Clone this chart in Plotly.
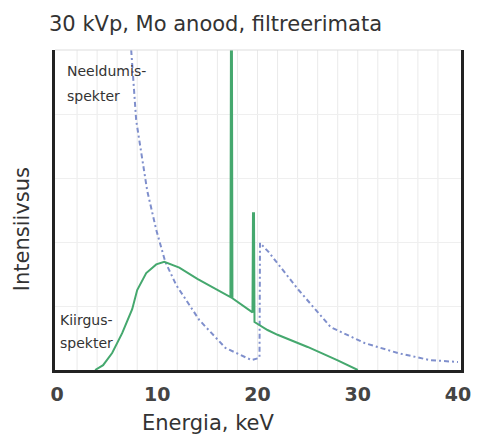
import plotly.graph_objects as go

# Emission (Kiirgus) spectrum, keV vs relative intensity
emis_x = [3.8, 4.6, 5.5, 6.5, 7.5, 8.0, 8.9, 9.9, 10.7, 12.2, 14.0, 16.0, 17.3, 17.35, 17.45, 17.5, 19.5, 19.55, 19.65, 19.7, 21.0, 22.0, 25.0, 28.0, 30.0]
emis_y = [0.0, 1.5, 5.3, 11.5, 19.0, 25.0, 30.3, 33.0, 33.8, 32.0, 28.5, 25.0, 22.8, 100.0, 100.0, 22.4, 18.0, 49.0, 49.0, 15.0, 12.5, 11.0, 7.2, 3.0, 0.0]

# Absorption (Neeldumis) spectrum
abs_x = [7.4, 7.9, 8.4, 9.0, 9.9, 10.8, 11.9, 12.7, 14.2, 16.8, 19.4, 20.2, 20.25, 21.1, 24.1, 27.3, 30.7, 34.0, 37.2, 40.0]
abs_y = [100.0, 78.0, 68.0, 56.0, 43.8, 33.8, 26.5, 22.8, 15.6, 6.9, 3.1, 3.8, 39.7, 36.9, 25.0, 13.4, 8.4, 5.3, 3.1, 2.5]

x_ticks = [0, 10, 20, 30, 40]
title_text = "30 kVp, Mo anood, filtreerimata"
xlabel = "Energia, keV"
ylabel = "Intensiivsus"

fig = go.Figure()
fig.add_trace(go.Scatter(x=abs_x, y=abs_y, mode="lines",
                         line=dict(color="#7f8fcc", width=2, dash="5px,3px,2px,3px"),
                         hoverinfo="skip", showlegend=False))
fig.add_trace(go.Scatter(x=emis_x, y=emis_y, mode="lines",
                         line=dict(color="#45a86e", width=2),
                         hoverinfo="skip", showlegend=False))

font = "DejaVu Sans, sans-serif"
fig.update_layout(
    width=483, height=436,
    margin=dict(l=55, r=19, t=50, b=66),
    paper_bgcolor="white", plot_bgcolor="white",
    font=dict(family=font, color="#333"),
    xaxis=dict(range=[-0.2, 40.3], tickvals=x_ticks, ticktext=[str(v) for v in x_ticks],
               tickfont=dict(size=19, color="#444", weight="bold"),
               showgrid=False, zeroline=False,
               showline=True, linewidth=3, linecolor="#222",
               ticks="", ticklabelstandoff=5),
    yaxis=dict(range=[0, 100], showticklabels=False, ticks="",
               showgrid=True, gridcolor="#efefef", gridwidth=1,
               tickvals=[20, 40, 60, 80],
               zeroline=False, showline=True, mirror=True, linewidth=3, linecolor="#222"),
    annotations=[
        dict(text=title_text, xref="paper", yref="paper", x=-0.02, y=1.0, yshift=26,
             xanchor="left", yanchor="middle", showarrow=False,
             font=dict(size=21, color="#333")),
        dict(text=xlabel, xref="x", yref="paper", x=15.1, y=0, yshift=-53,
             xanchor="center", yanchor="middle", showarrow=False,
             font=dict(size=21, color="#333")),
        dict(text=ylabel, xref="paper", yref="y", x=0, xshift=-33, y=44,
             xanchor="center", yanchor="middle", showarrow=False, textangle=-90,
             font=dict(size=21, color="#333")),
        dict(text="Neeldumis-", xref="x", yref="y", x=0.8, y=93.4,
             xanchor="left", yanchor="middle", showarrow=False, align="left",
             font=dict(size=14, color="#333")),
        dict(text="spekter", xref="x", yref="y", x=0.8, y=85.6,
             xanchor="left", yanchor="middle", showarrow=False, align="left",
             font=dict(size=14, color="#333")),
        dict(text="Kiirgus-", xref="x", yref="y", x=0.1, y=15.6,
             xanchor="left", yanchor="middle", showarrow=False, align="left",
             font=dict(size=14, color="#333")),
        dict(text="spekter", xref="x", yref="y", x=0.1, y=8.4,
             xanchor="left", yanchor="middle", showarrow=False, align="left",
             font=dict(size=14, color="#333")),
    ],
)

# faint vertical grid lines every 2 keV, and faint top border
shapes = []
for g in range(2, 40, 2):
    shapes.append(dict(type="line", xref="x", yref="paper", x0=g, x1=g, y0=0, y1=1,
                       line=dict(color="#eaeaea", width=1), layer="below"))
shapes.append(dict(type="line", xref="paper", yref="paper", x0=0, x1=1, y0=1, y1=1,
                   line=dict(color="#dddddd", width=1)))
fig.update_layout(shapes=shapes)

fig.write_html("out.html")
